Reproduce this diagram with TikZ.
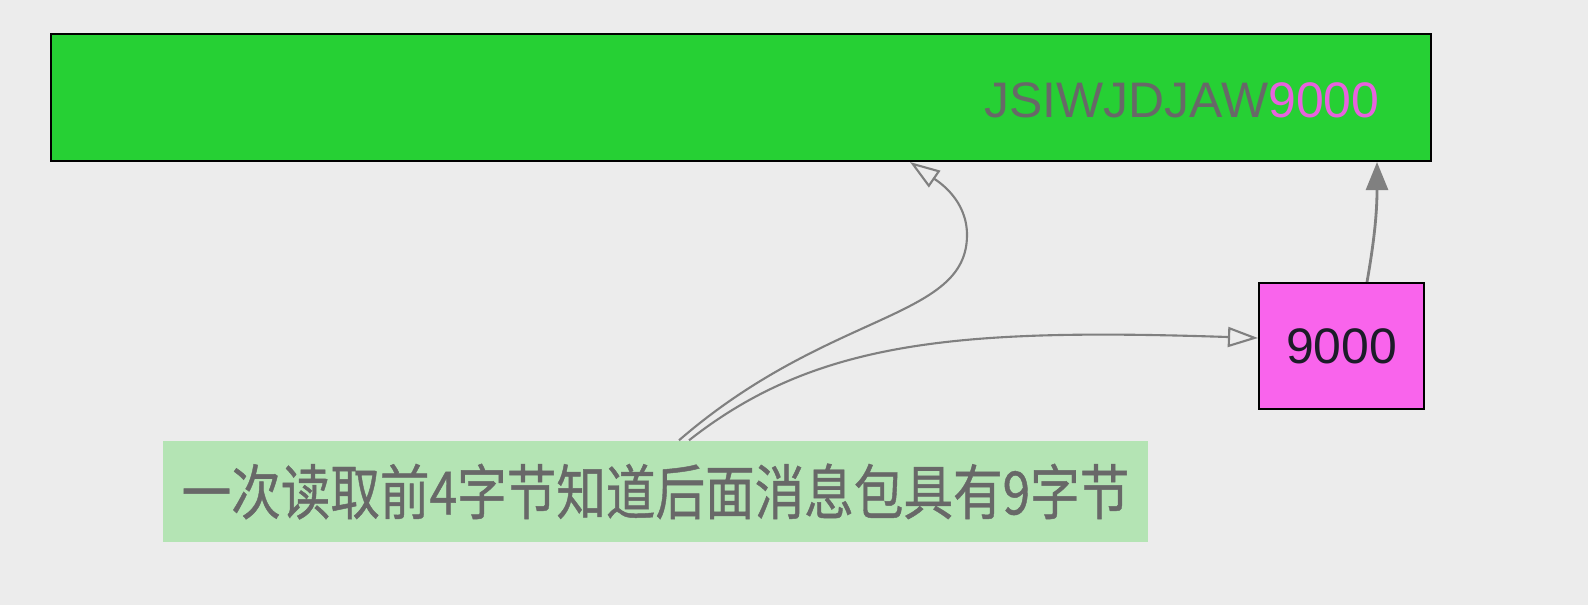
\documentclass[tikz,border=0pt]{standalone}
\usepackage{fontspec}
\setmainfont{Liberation Sans}
\newfontfamily\cjkfont{Noto Sans CJK SC}[RawFeature={embolden=0.8}]
\usetikzlibrary{arrows.meta,positioning}
\definecolor{bggray}{RGB}{236,236,236}
\definecolor{bufgreen}{RGB}{38,208,52}
\definecolor{lenpink}{RGB}{249,100,236}
\definecolor{notegreen}{RGB}{180,228,180}
\definecolor{txtgray}{RGB}{104,104,104}
\definecolor{linegray}{RGB}{128,128,128}
\definecolor{numpink}{RGB}{232,98,222}
\definecolor{darkink}{RGB}{28,28,40}

\begin{document}
\begin{tikzpicture}[
    box/.style={draw=black, line width=0.6pt, inner sep=0pt},
    hollow/.style={draw=linegray, line width=0.6pt, -{Triangle[open, length=0.3cm, width=0.2cm]}},
    fullarr/.style={draw=linegray, line width=0.8pt, -{Triangle[length=0.28cm, width=0.22cm]}}]
  \fill[bggray] (0,0) rectangle (15.88,6.05);
  \useasboundingbox (0,0) rectangle (15.88,6.05);
  \node[box, fill=bufgreen, minimum width=13.8cm, minimum height=1.27cm] (buf) at (7.41,5.075) {};
  \node[anchor=base east, inner sep=0pt, font=\fontsize{14.2}{16}\selectfont, text=txtgray] (bufdata) at (13.8,4.88) {JSIWJDJAW\textcolor{numpink}{9000}};
  \node[box, fill=lenpink, minimum width=1.65cm, minimum height=1.26cm, text=darkink, font=\fontsize{14.2}{16}\selectfont] (len) at (13.415,2.59) {9000};
  \node[fill=notegreen, minimum width=9.85cm, minimum height=1.01cm, inner sep=0pt, text=txtgray, font=\cjkfont\fontsize{17}{20}\selectfont] (note) at (6.555,1.135) {\scalebox{0.83}[1]{一次读取前4字节知道后面消息包具有9字节}};
  \coordinate (bend) at (9.67,3.70);
  \draw[hollow] ([xshift=0.235cm]note.north) .. controls +(1.5,1.3) and +(0,-0.85) .. (bend) .. controls +(0,0.35) and +(0.29,-0.2) .. ([xshift=1.69cm]buf.south);
  \draw[hollow] ([xshift=0.335cm]note.north) .. controls +(1.27,1.0) and +(-3.0,0.1) .. ([yshift=0.08cm]len.west);
  \draw[fullarr] ([xshift=0.255cm]len.north) to[out=80,in=-90] ([xshift=6.36cm]buf.south);
\end{tikzpicture}
\end{document}
